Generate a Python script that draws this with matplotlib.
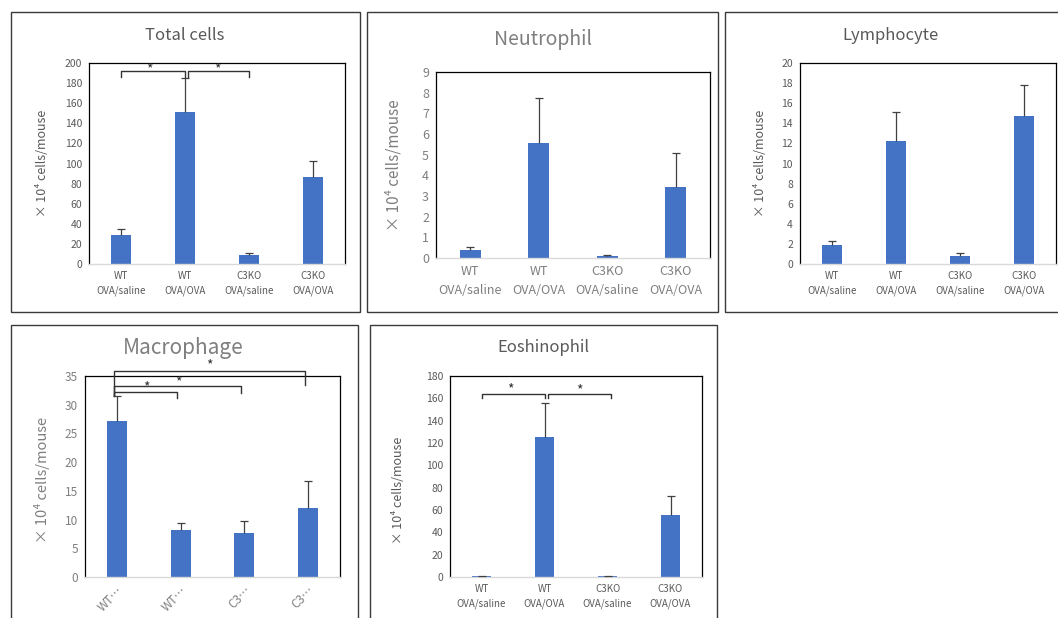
import numpy as np
import matplotlib
matplotlib.use("Agg")
import matplotlib.pyplot as plt
from matplotlib.patches import Rectangle

plt.rcParams['font.family'] = ['Noto Sans CJK JP', 'DejaVu Sans']

W, H = 1058, 618

groups = ["WT\nOVA/saline", "WT\nOVA/OVA", "C3KO\nOVA/saline", "C3KO\nOVA/OVA"]
groups_short = ["WT…", "WT…", "C3…", "C3…"]

total_mean = [29.2, 151.5, 8.6, 86.4]
total_err = [5.3, 33.5, 2.7, 16.2]
neut_mean = [0.40, 5.55, 0.08, 3.44]
neut_err = [0.13, 2.2, 0.05, 1.66]
lymph_mean = [1.9, 12.26, 0.76, 14.75]
lymph_err = [0.4, 2.85, 0.3, 3.05]
macro_mean = [27.2, 8.2, 7.6, 12.0]
macro_err = [4.3, 1.2, 2.2, 4.7]
eos_mean = [1.0, 125.3, 1.0, 55.9]
eos_err = [0.3, 30.5, 0.3, 16.5]

BAR = "#4472C4"
GRAY = "#595959"
YLAB = "× 10⁴ cells/mouse"

fig = plt.figure(figsize=(W / 100, H / 100), dpi=100)


def fx(x):
    return x / W


def fy(y):
    return 1 - y / H


def frame(l, t, r, b):
    fig.add_artist(Rectangle((fx(l), fy(b)), fx(r) - fx(l), fy(t) - fy(b),
                             transform=fig.transFigure, fill=False,
                             edgecolor="#3a3a3a", lw=1.0))


def panel(box, mean, err, ymax, ystep, labels, title, title_xy, title_fs,
          xfs, yfs, ylab_xy, ylab_fs, rot=0, color=GRAY):
    l, t, r, b = box
    ax = fig.add_axes([fx(l), fy(b), fx(r) - fx(l), fy(t) - fy(b)])
    x = np.arange(len(mean))
    ax.bar(x, mean, width=0.31, color=BAR, zorder=2)
    eb = ax.errorbar(x, mean, yerr=[np.zeros(len(err)), err], fmt="none",
                     ecolor="#404040", elinewidth=0.9, capsize=3,
                     capthick=0.9, zorder=3)
    eb[1][0].set_visible(False)
    ax.set_xlim(-0.5, len(mean) - 0.5)
    ax.set_ylim(0, ymax)
    ax.set_yticks(np.arange(0, ymax + ystep / 2, ystep))
    ax.set_xticks(x)
    if rot:
        ax.set_xticklabels(labels, rotation=rot, ha="right",
                           rotation_mode="anchor")
    else:
        ax.set_xticklabels(labels, linespacing=1.6)
    ax.tick_params(length=0, colors=color, pad=5)
    ax.tick_params(axis="x", labelsize=xfs)
    ax.tick_params(axis="y", labelsize=yfs)
    for s in ["left", "top", "right"]:
        ax.spines[s].set_color("black")
        ax.spines[s].set_linewidth(0.9)
    ax.spines["bottom"].set_color("#d9d9d9")
    ax.spines["bottom"].set_linewidth(1.0)
    fig.text(fx(title_xy[0]), fy(title_xy[1]), title, ha="center",
             va="center", fontsize=title_fs, color=color)
    fig.text(fx(ylab_xy[0]), fy(ylab_xy[1]), YLAB, ha="center",
             va="center", rotation=90, fontsize=ylab_fs, color=color)
    return ax


def bracket(ax, x1, x2, y, y1, y2, star):
    ax.plot([x1, x1, x2, x2], [y1, y, y, y2], color="#333333", lw=1.0,
            clip_on=False, zorder=4)
    ax.text(star[0], star[1], "*", ha="center", va="center", fontsize=10,
            color="#333333", clip_on=False)


frame(11, 12, 360, 312)
frame(367, 12, 718, 312)
frame(725, 12, 1062, 312)
frame(11, 325, 358, 625)
frame(370, 325, 717, 625)

ax1 = panel((89, 63, 345, 264), total_mean, total_err, 200, 20, groups,
            "Total cells", (185, 35), 12, 7, 7.5, (43, 163), 9)
bracket(ax1, 0, 1, 192, 186, 186, (0.45, 194))
bracket(ax1, 1.05, 2.0, 192, 186, 186, (1.5, 194))

panel((436, 72, 710, 258), neut_mean, neut_err, 9, 1, groups,
      "Neutrophil", (543, 39), 14, 9, 9, (394, 165), 11, color="#7f7f7f")

panel((800, 63, 1056, 264), lymph_mean, lymph_err, 20, 2, groups,
      "Lymphocyte", (891, 35), 12, 7, 7.5, (760, 163), 9)

ax4 = panel((85, 376, 340, 577), macro_mean, macro_err, 35, 5, groups_short,
            "Macrophage", (183, 348), 15, 8.5, 8.5, (42, 480), 10.5, rot=45,
            color="#7f7f7f")
bracket(ax4, -0.05, 2.95, 35.9, 31.7, 33.4, (1.45, 36.8))
bracket(ax4, -0.05, 1.95, 33.3, 31.7, 32.1, (0.96, 33.9))
bracket(ax4, -0.05, 0.95, 32.3, 31.5, 31.2, (0.47, 33.0))

ax5 = panel((450, 376, 702, 577), eos_mean, eos_err, 180, 20, groups,
            "Eoshinophil", (543, 348), 12, 7, 7.5, (399, 490), 9)
bracket(ax5, 0, 1, 164, 160, 160, (0.45, 168))
bracket(ax5, 1.05, 2.05, 164, 160, 160, (1.55, 167.5))

fig.savefig("out.png", dpi=100)
